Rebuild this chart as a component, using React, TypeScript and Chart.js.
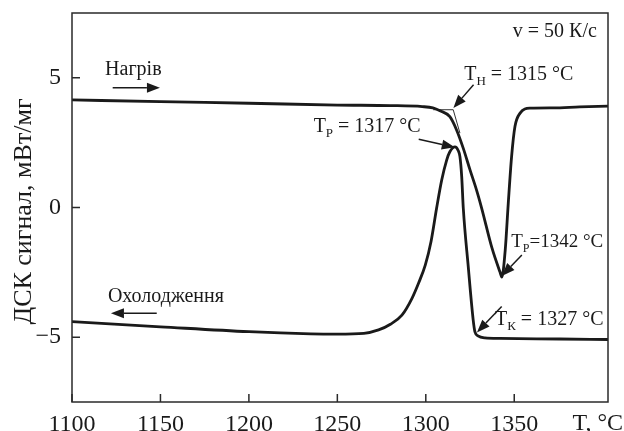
import React, { useEffect, useRef } from "react";
import { Chart, registerables } from "chart.js";

Chart.register(...registerables);

// ---- data ----
const X_TICKS = [1100, 1150, 1200, 1250, 1300, 1350];
const Y_TICKS = [-5, 0, 5];
const X_MIN = 1100;
const X_MAX = 1403;
const Y_MIN = -7.5;
const Y_MAX = 7.5;

const HEAT_T = [1100, 1150, 1200, 1250, 1280, 1298, 1304, 1308, 1313.6, 1317.4, 1321.2, 1325, 1328.7, 1331.6, 1337.4, 1341.9, 1343, 1344.9, 1346.6, 1348.5, 1350.4, 1353.2, 1358.9, 1371.9, 1387, 1403];
const HEAT_V = [4.15, 4.08, 4.02, 3.95, 3.93, 3.89, 3.84, 3.73, 3.5, 2.99, 2.28, 1.45, 0.67, -0.03, -1.56, -2.48, -2.68, -1.64, 0.14, 1.96, 3.12, 3.63, 3.83, 3.84, 3.88, 3.91];

const COOL_T = [1100, 1150, 1200, 1235, 1250, 1265, 1273.3, 1280, 1286.5, 1292.2, 1296, 1299.7, 1303, 1306.1, 1309, 1311.8, 1313.6, 1316.5, 1318.3, 1319.3, 1320.3, 1321.2, 1324, 1326.8, 1327.8, 1329.5, 1333.4, 1341.9, 1375.8, 1403];
const COOL_V = [-4.4, -4.6, -4.79, -4.87, -4.88, -4.85, -4.72, -4.5, -4.15, -3.5, -2.9, -2.22, -1.3, -0.03, 1.06, 1.83, 2.15, 2.34, 2.2, 1.96, 1.19, -0.03, -2.28, -4.34, -4.8, -4.95, -5.03, -5.05, -5.07, -5.09];

const ONSET_T = [1304.2, 1315.5, 1319.3];
const ONSET_V = [3.77, 3.77, 2.87];

const Y_TITLE = "ДСК сигнал, мВт/мг";
const X_TITLE = "T, °C";

// plain notes: [text, T, V, align]
const NOTES: [string, number, number, CanvasTextAlign][] = [
  ["Нагрів", 1118.7, 5.11, "left"],
  ["Охолодження", 1120.3, -3.63, "left"],
  ["v = 50 К/с", 1396.7, 6.59, "right"],
];

// labelled temperatures: [main, sub, rest, T, V, size]
const TEMP_LABELS: [string, string, string, number, number, number][] = [
  ["T", "Н", " = 1315 °C", 1321.7, 4.92, 20],
  ["T", "Р", " = 1317 °C", 1236.6, 2.92, 20],
  ["T", "Р", "=1342 °C", 1348.3, -1.51, 19],
  ["T", "К", " = 1327 °C", 1339.1, -4.53, 20],
];

// arrows: [fromT, fromV, toT, toV]
const ARROWS: [number, number, number, number][] = [
  [1123.0, 4.62, 1149.7, 4.62],
  [1147.9, -4.08, 1122.0, -4.08],
  [1327.0, 4.73, 1315.6, 3.84],
  [1296.0, 2.63, 1316.4, 2.32],
  [1354.3, -1.83, 1343.0, -2.64],
  [1342.9, -3.82, 1328.9, -4.82],
];

const FONT = "'Liberation Serif', 'Times New Roman', serif";
const INK = "#1a1a1a";

const drawPlugin = {
  id: "decor",
  afterDraw(chart: any) {
    const { ctx, chartArea: ca, scales } = chart;
    const px = (t: number) => scales.x.getPixelForValue(t);
    const py = (v: number) => scales.y.getPixelForValue(v);
    ctx.save();
    // frame
    ctx.strokeStyle = "#2a2a2a";
    ctx.lineWidth = 1.5;
    ctx.strokeRect(ca.left, ca.top, ca.right - ca.left, ca.bottom - ca.top);
    // inward ticks
    ctx.beginPath();
    X_TICKS.forEach((t) => {
      const x = px(t);
      ctx.moveTo(x, ca.bottom);
      ctx.lineTo(x, ca.bottom - 8);
    });
    Y_TICKS.forEach((v) => {
      const y = py(v);
      ctx.moveTo(ca.left, y);
      ctx.lineTo(ca.left + 8, y);
    });
    ctx.stroke();

    ctx.fillStyle = INK;
    ctx.textBaseline = "alphabetic";
    // axis titles
    ctx.font = `24px ${FONT}`;
    ctx.textAlign = "right";
    ctx.fillText(X_TITLE, 623, 430);
    ctx.save();
    ctx.translate(31, (ca.top + ca.bottom) / 2 + 4);
    ctx.rotate(-Math.PI / 2);
    ctx.textAlign = "center";
    ctx.font = `26px ${FONT}`;
    ctx.fillText(Y_TITLE, 0, 0);
    ctx.restore();

    // notes
    ctx.font = `20px ${FONT}`;
    NOTES.forEach(([txt, t, v, al]) => {
      ctx.textAlign = al;
      ctx.fillText(txt, px(t), py(v));
    });
    // temp labels with subscripts
    ctx.textAlign = "left";
    TEMP_LABELS.forEach(([m, s, r, t, v, size]) => {
      let x = px(t);
      const y = py(v);
      ctx.font = `${size}px ${FONT}`;
      ctx.fillText(m, x, y);
      x += ctx.measureText(m).width;
      ctx.font = `${Math.round(size * 0.65)}px ${FONT}`;
      ctx.fillText(s, x, y + 5);
      x += ctx.measureText(s).width;
      ctx.font = `${size}px ${FONT}`;
      ctx.fillText(r, x, y);
    });
    // arrows
    ctx.strokeStyle = INK;
    ctx.lineWidth = 1.5;
    ARROWS.forEach(([t0, v0, t1, v1]) => {
      const x0 = px(t0), y0 = py(v0), x1 = px(t1), y1 = py(v1);
      const a = Math.atan2(y1 - y0, x1 - x0);
      const L = 13, W = 5;
      const bx = x1 - L * Math.cos(a), by = y1 - L * Math.sin(a);
      ctx.beginPath();
      ctx.moveTo(x0, y0);
      ctx.lineTo(bx, by);
      ctx.stroke();
      ctx.beginPath();
      ctx.moveTo(x1, y1);
      ctx.lineTo(bx + W * Math.sin(a), by - W * Math.cos(a));
      ctx.lineTo(bx - W * Math.sin(a), by + W * Math.cos(a));
      ctx.closePath();
      ctx.fill();
    });
    ctx.restore();
  },
};

export default function App() {
  const ref = useRef<HTMLCanvasElement | null>(null);
  useEffect(() => {
    document.body.style.margin = "0";
    const canvas = ref.current!;
    const toPts = (xs: number[], ys: number[]) => xs.map((x, i) => ({ x, y: ys[i] }));
    const chart = new Chart(canvas, {
      type: "line",
      data: {
        datasets: [
          {
            data: toPts(HEAT_T, HEAT_V),
            borderColor: INK,
            borderWidth: 2.8,
            pointRadius: 0,
            cubicInterpolationMode: "monotone",
            fill: false,
          },
          {
            data: toPts(COOL_T, COOL_V),
            borderColor: INK,
            borderWidth: 2.8,
            pointRadius: 0,
            cubicInterpolationMode: "monotone",
            fill: false,
          },
          {
            data: toPts(ONSET_T, ONSET_V),
            borderColor: INK,
            borderWidth: 0.9,
            pointRadius: 0,
            tension: 0,
            fill: false,
          },
        ],
      },
      options: {
        animation: false,
        responsive: false,
        devicePixelRatio: 1,
        layout: { padding: { top: 13, right: 16, left: 0, bottom: 0 } },
        plugins: { legend: { display: false }, tooltip: { enabled: false } },
        scales: {
          x: {
            type: "linear",
            min: X_MIN,
            max: X_MAX,
            border: { display: false },
            grid: { display: false, drawTicks: false },
            afterBuildTicks: (s: any) => {
              s.ticks = X_TICKS.map((value) => ({ value }));
            },
            afterFit: (s: any) => {
              s.height = 29;
              s.paddingLeft = 0;
              s.paddingRight = 0;
            },
            ticks: {
              color: INK,
              padding: 8,
              maxRotation: 0,
              autoSkip: false,
              font: { family: FONT, size: 24 },
              callback: (v: any) => String(v),
            },
          },
          y: {
            type: "linear",
            min: Y_MIN,
            max: Y_MAX,
            border: { display: false },
            grid: { display: false, drawTicks: false },
            afterBuildTicks: (s: any) => {
              s.ticks = Y_TICKS.map((value) => ({ value }));
            },
            afterFit: (s: any) => {
              s.width = 72;
              s.paddingTop = 0;
              s.paddingBottom = 0;
            },
            ticks: {
              color: INK,
              padding: 11,
              font: { family: FONT, size: 24 },
              callback: (v: any) => (v < 0 ? "\u2212" + Math.abs(v) : String(v)),
            },
          },
        },
      },
      plugins: [drawPlugin],
    } as any);
    return () => chart.destroy();
  }, []);
  return (
    <div style={{ width: 624, height: 431 }}>
      <canvas ref={ref} width={624} height={431} style={{ display: "block" }} />
    </div>
  );
}
